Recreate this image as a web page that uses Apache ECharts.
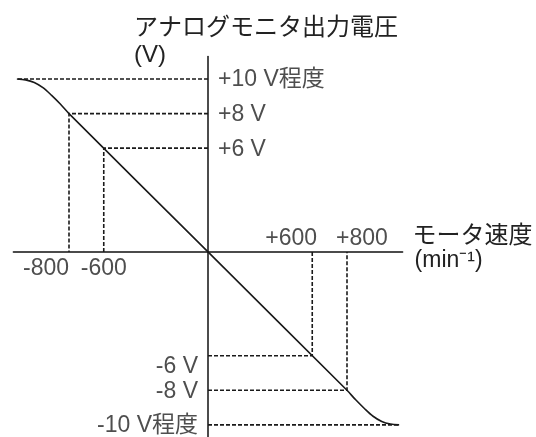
<!DOCTYPE html>
<html>
<head>
<meta charset="utf-8">
<script src="https://cdn.jsdelivr.net/npm/echarts@6/dist/echarts.min.js"></script>
<style>html,body{margin:0;padding:0;background:#fff}#c{width:536px;height:437px}</style>
</head>
<body>
<div id="c"></div>
<script>
// Data
var speeds = [-1100, -1050, -1000, -950, -900, -850, -800, 0, 800, 850, 900, 950, 1000, 1050, 1100];
var volts  = [10.0, 9.95, 9.8, 9.5, 9.05, 8.55, 8.0, 0, -8.0, -8.55, -9.05, -9.5, -9.8, -9.95, -10.0];
var guideSpeeds = [-800, -600, 600, 800];
var guideVolts  = [8, 6, -6, -8];
var limitSpeeds = [-1100, 1100];
var limitVolts  = [10, -10];
var yTickValues = [10, 8, 6, -6, -8, -10];
var yTickLabels = ['+10 V程度', '+8 V', '+6 V', '-6 V', '-8 V', '-10 V程度'];
var xTickValues = [-800, -600, 600, 800];
var xTickLabels = ['-800', '-600', '+600', '+800'];
var yTitle = 'アナログモニタ出力電圧';
var yUnit = '(V)';
var xTitle = 'モータ速度';
var xUnit = '(min⁻¹)';

var FONT = 'Liberation Sans, Arial, Noto Sans CJK JP, sans-serif';
var JFONT = 'Noto Sans CJK JP, sans-serif';
var TXT = '#222';
var LINE = '#1a1a1a';

var series = [];
series.push({
  type: 'line', data: speeds.map(function (s, i) { return [s, volts[i]]; }),
  symbol: 'none', smooth: 0.3, lineStyle: { color: LINE, width: 1.6 }, z: 5
});
guideSpeeds.forEach(function (s, i) {
  series.push({
    type: 'line', data: [[0, guideVolts[i]], [s, guideVolts[i]], [s, 0]],
    symbol: 'none', lineStyle: { color: LINE, width: 1.6, type: [4, 2] }
  });
});
limitSpeeds.forEach(function (s, i) {
  series.push({
    type: 'line', data: [[0, limitVolts[i]], [s, limitVolts[i]]],
    symbol: 'none', lineStyle: { color: LINE, width: 1.6, type: [4, 2] }
  });
});
// y tick labels
series.push({
  type: 'scatter', symbolSize: 0, silent: true,
  data: yTickValues.map(function (v, i) {
    var pos = v > 0 ? 'right' : 'left';
    return { value: [0, v], name: yTickLabels[i],
      label: { position: pos, distance: 10, offset: v === -6 ? [0, 11] : [0, 1] } };
  }),
  label: { show: true, formatter: '{b}', fontSize: 23, fontFamily: FONT, color: TXT }
});
// x tick labels
var xOffsets = [[-23, 0], [0, 0], [-21, 0], [15, 0]];
series.push({
  type: 'scatter', symbolSize: 0, silent: true,
  data: xTickValues.map(function (v, i) {
    return { value: [v, 0], name: xTickLabels[i],
      label: { position: v < 0 ? 'bottom' : 'top', distance: v < 0 ? 5 : 2, offset: xOffsets[i] } };
  }),
  label: { show: true, formatter: '{b}', fontSize: 23, fontFamily: FONT, color: TXT }
});

var chart = echarts.init(document.getElementById('c'), null, { renderer: 'canvas' });
chart.setOption({
  backgroundColor: '#fff',
  animation: false,
  title: {
    text: yTitle, subtext: yUnit, left: 134, top: 12, itemGap: 2, padding: 0,
    textStyle: { fontSize: 24, fontWeight: 'normal', fontFamily: JFONT, color: TXT, lineHeight: 28 },
    subtextStyle: { fontSize: 24, fontFamily: FONT, color: TXT, lineHeight: 26 }
  },
  grid: { left: 13.4, right: 133.4, top: 56.5, bottom: 0, containLabel: false },
  xAxis: {
    type: 'value', min: -1120, max: 1120,
    name: '{a|' + xTitle + '}\n{b|' + xUnit + '}', nameLocation: 'end', nameGap: 10,
    nameTextStyle: {
      padding: [0, 0, 10, 0],
      rich: {
        a: { fontSize: 24, fontFamily: JFONT, color: TXT, lineHeight: 27 },
        b: { fontSize: 23, fontFamily: FONT, color: TXT, lineHeight: 26, padding: [0, 0, 0, 2] }
      }
    },
    axisLine: { onZero: true, lineStyle: { color: '#111', width: 1.5 } },
    axisTick: { show: false }, axisLabel: { show: false }, splitLine: { show: false }
  },
  yAxis: {
    type: 'value', min: -10.7, max: 11.3,
    axisLine: { onZero: true, lineStyle: { color: '#111', width: 1.5 } },
    axisTick: { show: false }, axisLabel: { show: false }, splitLine: { show: false }
  },
  series: series
});
</script>
</body>
</html>
